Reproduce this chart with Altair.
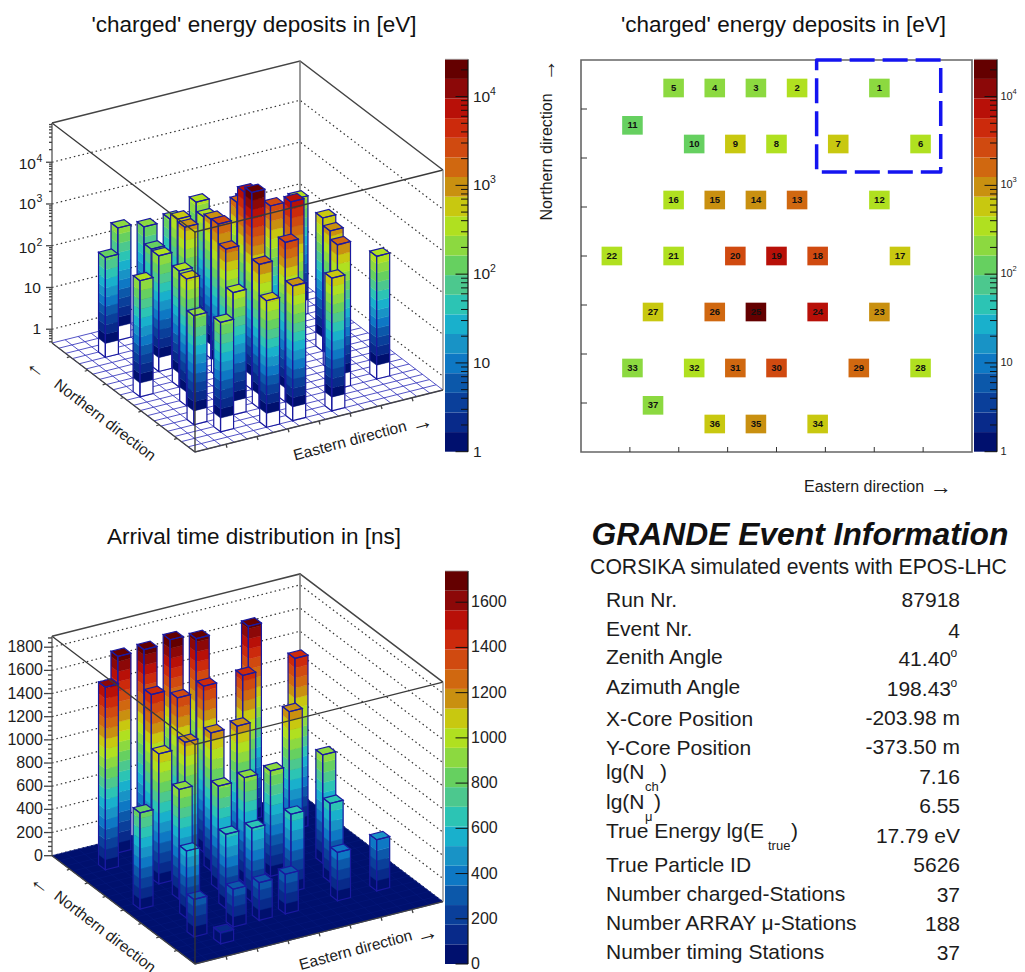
import math
import altair as alt

# ---- data ----
station_id = list(range(1, 38))
station_col = [14,10,8,6,4,16,12,9,7,5,2,14,10,8,6,4,15,11,9,7,4,1,14,11,8,6,3,16,13,9,7,5,2,11,8,6,3]
station_row = [1,1,1,1,1,4,4,4,4,4,3,7,7,7,7,7,10,10,10,10,10,10,13,13,13,13,13,16,16,16,16,16,16,19,19,19,18]
charged_lg = [2.30,2.51,2.26,2.23,2.36,2.49,2.80,2.61,2.71,2.15,2.06,2.50,3.25,3.00,2.97,2.44,2.86,3.46,3.95,3.34,
              2.45,2.45,3.00,3.93,4.39,3.19,2.71,2.61,3.12,3.49,3.12,2.60,2.28,2.85,2.90,2.70,2.29]
arrival_ns = [1674,1680,1727,1698,1696,1473,1439,1431,1387,1472,1577,1203,1192,1190,1165,1122,935,910,908,892,
              948,831,678,670,634,638,579,441,417,342,326,326,323,0,0,0,98]
palette = ["#00106e","#082a8a","#0a3f9a","#0c58aa","#0e78c4","#1893c6","#19b0cc","#2cc4b4","#4cc88e","#66d060",
           "#8cd940","#b0e020","#c8c810","#c99010","#d06810","#d04a10","#cc2a0c","#b81008","#8c0808","#640000"]
info_labels = ["Run Nr.","Event Nr.","Zenith Angle","Azimuth Angle","X-Core Position","Y-Core Position","lg(N","lg(N",
               "True Energy lg(E","True Particle ID","Number charged-Stations","Number ARRAY \u03bc-Stations","Number timing Stations"]
info_values = ["87918","4","41.40","198.43","-203.98 m","-373.50 m","7.16","6.55","17.79 eV","5626","37","188","37"]
info_label_y = [600.7,630,658,688,720,749,773,803,832,866,895,924,953]
info_value_y = [601,632,660,690,719,748,778,807,837,866,896,925,954]
NX, NY = 19, 21
CH_MAX = 4.42   # lg of colour-scale top
T_MAX = 1738
FONT = "Liberation Sans"
OFF = 8

P1 = dict(F=(195,452), R=(443,390), L=(52,343), H=220)
P3 = dict(F=(195,964), R=(443,901.7), L=(52,855.7), H=219.5)
z1 = lambda lg: (lg + 0.33) / 5.27
z3 = lambda t: t / 1895.0

def pt(P, u, v, z=0.0):
    F, R, L = P["F"], P["R"], P["L"]
    return [F[0] + (R[0]-F[0])*u + (L[0]-F[0])*v,
            F[1] + (R[1]-F[1])*u + (L[1]-F[1])*v - P["H"]*z]

def poly(pts, fill, stroke, sw):
    return {"type":"Feature","geometry":{"type":"Polygon","coordinates":[pts+[pts[0]]]},
            "properties":{"fill":fill,"stroke":stroke,"sw":sw}}

def line(pts, stroke="#555555"):
    return {"type":"Feature","geometry":{"type":"LineString","coordinates":pts},"properties":{"stroke":stroke}}

EDGE = "#1a1aa0"

def bars(P, vals, zf, band_of, edges, base):
    out = []
    order = sorted(range(len(vals)), key=lambda i: (station_row[i], -station_col[i]))
    for i in order:
        val = vals[i]
        if val <= 0:
            continue
        c, r = station_col[i], station_row[i]
        u0, u1 = c/NX, (c+1)/NX
        v1, v0 = (NY-r)/NY, (NY-r-1)/NY
        zt = zf(val)
        faces = [((u0,v0),(u0,v1)), ((u0,v0),(u1,v0))]
        for a, b in faces:
            if base is not None:
                zb = zf(base)
                out.append(poly([pt(P,*a,0),pt(P,*b,0),pt(P,*b,zb),pt(P,*a,zb)], "#ffffff", "#ffffff", 0.3))
            for k, col in enumerate(palette):
                lo, hi = edges[k], min(edges[k+1], val)
                if lo >= val:
                    break
                out.append(poly([pt(P,*a,zf(lo)),pt(P,*b,zf(lo)),pt(P,*b,zf(hi)),pt(P,*a,zf(hi))], col, col, 0.4))
        topc = palette[min(band_of(val), 19)]
        out.append(poly([pt(P,u0,v0,zt),pt(P,u1,v0,zt),pt(P,u1,v1,zt),pt(P,u0,v1,zt)], topc, EDGE, 1.2))
        # outlines of the two visible faces
        out.append(poly([pt(P,u0,v1,0),pt(P,u0,v0,0),pt(P,u0,v0,zt),pt(P,u0,v1,zt)], "none", EDGE, 1.2))
        out.append(poly([pt(P,u0,v0,0),pt(P,u1,v0,0),pt(P,u1,v0,zt),pt(P,u0,v0,zt)], "none", EDGE, 1.2))
    return out

def floor_lines(P, col):
    f = []
    for c in range(NX+1):
        f.append(line([pt(P,c/NX,0),pt(P,c/NX,1)], col))
    for r in range(NY+1):
        f.append(line([pt(P,0,r/NY),pt(P,1,r/NY)], col))
    return f

geo = alt.Projection(type="identity", scale=1, translate=[-OFF, -OFF])

def geo_lines(feats, width, dash=None):
    kw = dict(filled=False, strokeWidth=width)
    if dash:
        kw["strokeDash"] = dash
    return alt.Chart(alt.Data(values=feats)).mark_geoshape(**kw).encode(
        stroke=alt.Stroke("properties.stroke:N", scale=None)).project(**geo.to_dict())

def geo_polys(feats):
    return alt.Chart(alt.Data(values=feats)).mark_geoshape().encode(
        fill=alt.Fill("properties.fill:N", scale=None),
        stroke=alt.Stroke("properties.stroke:N", scale=None),
        strokeWidth=alt.StrokeWidth("properties.sw:Q", scale=None)).project(**geo.to_dict())

layers = []

def walls(P, zvals):
    d = []
    for z in zvals:
        d.append(line([pt(P,0,1,z),pt(P,1,1,z),pt(P,1,0,z)], "#333333"))
    return d

def frame_back(P):
    return [line([pt(P,0,1,1),pt(P,1,1,1),pt(P,1,0,1)], "#444444"),
            line([pt(P,1,1,0),pt(P,1,1,1)], "#777777")]

def frame_front(P):
    return [line([pt(P,0,1,1),pt(P,0,0,1),pt(P,1,0,1)], "#3a3a3a"),
            line([pt(P,0,0,0),pt(P,0,0,1)], "#333333"),
            line([pt(P,0,1,0),pt(P,0,1,1)], "#555555"),
            line([pt(P,1,0,0),pt(P,1,0,1)], "#888888")]

def floor_edges(P):
    e = [line([pt(P,0,1),pt(P,0,0),pt(P,1,0)], "#444444")]
    for k in range(1,8):
        a = pt(P,k/8,0)
        e.append(line([a,[a[0]+1,a[1]+3.5]], "#444444"))
        b = pt(P,0,k/8)
        e.append(line([b,[b[0]-3,b[1]+1]], "#444444"))
    return e

def lticks(P, zs, ln):
    return [line([[pt(P,0,1,z)[0]-ln, pt(P,0,1,z)[1]], pt(P,0,1,z)], "#444444") for z in zs]

step = CH_MAX/20
ch_edges = [k*step for k in range(21)]
t_step = T_MAX/20
t_edges = [k*t_step for k in range(21)]

# -- panel 1 and 3 backgrounds --
major1 = [z1(k) for k in range(5)]
major3 = [z3(k*200) for k in range(1,10)] + [z3(0)]
layers.append(geo_lines(walls(P1, major1) + walls(P3, major3), 1.2, [1.5,3]))
layers.append(geo_lines(frame_back(P1) + frame_back(P3), 1.5))
layers.append(geo_polys([poly([pt(P3,0,0),pt(P3,1,0),pt(P3,1,1),pt(P3,0,1)], palette[0], palette[0], 0.5)]))
layers.append(geo_lines(floor_lines(P1, "#4040c0"), 0.9))
layers.append(geo_lines(floor_lines(P3, "#081c80"), 0.4))
layers.append(geo_polys(bars(P1, charged_lg, z1, lambda v: int(v/step), ch_edges, 0.0)))
layers.append(geo_polys(bars(P3, arrival_ns, z3, lambda v: int(v/t_step), t_edges, None)))
minor1 = []
for d in range(-1,5):
    for m in range(2,10):
        lg = d + math.log10(m)
        if -0.33 < lg < 4.94:
            minor1.append(z1(lg))
minor3 = [z3(k*40) for k in range(0,48) if k % 5]
layers.append(geo_lines(frame_front(P1) + frame_front(P3) + floor_edges(P1) + floor_edges(P3)
                        + lticks(P1, major1, 6) + lticks(P1, minor1, 3)
                        + lticks(P3, major3, 8) + lticks(P3, minor3, 4), 1.3))

# -- colour bars through their own scales --
def colorbar(x0, x1, ytop, ybot, scale_y, edges, majors, minors, labels, lab_x, sup_size=10.5, sup_dx=17):
    rows = [{"lo":edges[k], "hi":edges[k+1], "mid":k+0.5} for k in range(20)]
    out = [alt.Chart(alt.Data(values=rows)).mark_rect().encode(
        x=alt.value(x0-OFF), x2=alt.value(x1-OFF),
        y=alt.Y("lo:Q", scale=scale_y, axis=None), y2="hi:Q",
        fill=alt.Fill("mid:Q", scale=alt.Scale(type="quantize", domain=[0,20], range=palette), legend=None))]
    if minors:
        out.append(alt.Chart(alt.Data(values=[{"t":v} for v in minors])).mark_rule(color="#111111", strokeWidth=1).encode(
            x=alt.value(x1-7-OFF), x2=alt.value(x1-OFF), y=alt.Y("t:Q", scale=scale_y, axis=None)))
    out.append(alt.Chart(alt.Data(values=[{"t":v} for v in majors])).mark_rule(color="#111111", strokeWidth=1).encode(
        x=alt.value(x1-12.5-OFF), x2=alt.value(x1-OFF), y=alt.Y("t:Q", scale=scale_y, axis=None)))
    base = [{"t":v,"s":s} for v,s,_ in labels]
    sup = [{"t":v,"s":e} for v,_,e in labels if e]
    out.append(alt.Chart(alt.Data(values=base)).mark_text(font=FONT, fontSize=lab_x[1], align="left", baseline="middle", color="#222222").encode(
        x=alt.value(lab_x[0]-OFF), y=alt.Y("t:Q", scale=scale_y, axis=None), text="s:N"))
    if sup:
        out.append(alt.Chart(alt.Data(values=sup)).mark_text(font=FONT, fontSize=sup_size, align="left", baseline="middle", color="#222222", dy=-5, dx=sup_dx).encode(
            x=alt.value(lab_x[0]-OFF), y=alt.Y("t:Q", scale=scale_y, axis=None), text="s:N"))
    out.append(alt.Chart(alt.Data(values=[{"a":1}])).mark_rule(color="#111111", strokeWidth=1.2).encode(
        x=alt.value(x1-OFF), y=alt.value(ytop-OFF), y2=alt.value(ybot-OFF)))
    out.append(alt.Chart(alt.Data(values=[{"a":1}])).mark_rule(color="#999999", strokeWidth=0.8).encode(
        x=alt.value(x0-OFF), x2=alt.value(x1-OFF), y=alt.value(ytop-OFF)))
    return out

log_edges = [10**e for e in ch_edges]
log_major = [1,10,100,1000,10000]
log_minor = [m*10**d for d in range(5) for m in range(2,10) if m*10**d < 10**CH_MAX]
log_labels = [(1,"1",""),(10,"10",""),(100,"10","2"),(1000,"10","3"),(10000,"10","4")]
sy = alt.Scale(type="log", domain=[1,10**CH_MAX], range=[451.7-OFF,59.3-OFF])
layers += colorbar(445, 468, 59.3, 451.7, sy, log_edges, log_major, log_minor, log_labels, (473,15.5))
# the right-hand bar's labels are set smaller so they stay inside the 1009 px canvas
layers += colorbar(974, 997, 59.3, 451.7, sy, log_edges, log_major, log_minor, log_labels, (1000.5,11), 7.5, 12)
sy3 = alt.Scale(type="linear", domain=[0,T_MAX], range=[964-OFF,571-OFF])
t_labels = [(v,str(v),"") for v in range(0,1601,200)]
layers += colorbar(445, 468, 571, 964, sy3, t_edges, [v for v,_,_ in t_labels], [], t_labels, (471,16))

# -- 2D map with real scales --
sx = alt.Scale(domain=[0,NX], range=[581-OFF,972-OFF])
sy2 = alt.Scale(domain=[0,NY], range=[60-OFF,452-OFF])
cells = [{"id":str(i),"c":c,"c2":c+1,"cm":c+0.5,"r":r,"r2":r+1,"rm":r+0.5,"lg":v}
         for i,c,r,v in zip(station_id,station_col,station_row,charged_lg)]
cells_data = alt.Data(values=cells)
layers.append(alt.Chart(cells_data).mark_rect().encode(
    x=alt.X("c:Q", scale=sx, axis=None), x2="c2:Q",
    y=alt.Y("r:Q", scale=sy2, axis=None), y2="r2:Q",
    fill=alt.Fill("lg:Q", scale=alt.Scale(type="quantize", domain=[0,CH_MAX], range=palette), legend=None)))
layers.append(alt.Chart(cells_data).mark_text(font=FONT, fontSize=9.5, fontWeight="bold", color="#111111", baseline="middle").encode(
    x=alt.X("cm:Q", scale=sx, axis=None), y=alt.Y("rm:Q", scale=sy2, axis=None), text="id:N"))
layers.append(alt.Chart(alt.Data(values=[{"a":0,"b":NX,"p":0,"q":NY}])).mark_rect(
    filled=False, stroke="#666666", strokeWidth=1.6).encode(
    x=alt.X("a:Q", scale=sx, axis=None), x2="b:Q", y=alt.Y("p:Q", scale=sy2, axis=None), y2="q:Q"))
layers.append(alt.Chart(alt.Data(values=[{"a":11.45,"b":17.48,"p":0.0,"q":6.0}])).mark_rect(
    filled=False, stroke="#1414f0", strokeWidth=3.5, strokeDash=[25,8], strokeJoin="round").encode(
    x=alt.X("a:Q", scale=sx, axis=None), x2="b:Q", y=alt.Y("p:Q", scale=sy2, axis=None), y2="q:Q"))
layers.append(alt.Chart(alt.Data(values=[{"t":NX*k/8} for k in range(1,8)])).mark_rule(color="#333333", strokeWidth=1).encode(
    x=alt.X("t:Q", scale=sx, axis=None), y=alt.value(452-OFF), y2=alt.value(447-OFF)))
layers.append(alt.Chart(alt.Data(values=[{"t":NY*k/8} for k in range(1,8)])).mark_rule(color="#333333", strokeWidth=1).encode(
    y=alt.Y("t:Q", scale=sy2, axis=None), x=alt.value(581-OFF), x2=alt.value(587-OFF)))

# -- text --
texts = []
def T(s, x, y, size=21, align="left", angle=0, weight="normal", style="normal", color="#1c1c1c"):
    texts.append(dict(s=s,x=x-OFF,y=y-OFF,size=size,align=align,angle=angle,weight=weight,style=style,color=color))

for s, x, y in [("'charged' energy deposits in [eV]",254,25),("'charged' energy deposits in [eV]",783.5,25),
                ("Arrival time distribution in [ns]",254,537)]:
    T(s,x,y,22.5,"center",color="#111111")
T("Northern direction",105,420,15.5,"center",37.5)
T("\u2190",37,368,22,"center",37.5)
T("Eastern direction",350,440.7,15.5,"center",345)
T("\u2192",421.7,423,22,"center",345)
T("Northern direction",105,931.7,15.5,"center",37.5)
T("\u2190",41,884,22,"center",37.5)
T("Eastern direction",355.7,950,15.5,"center",345)
T("\u2192",426.7,934,22,"center",345)
T("Northern direction",546.7,157,16,"center",270)
T("\u2192",548,70,22,"center",270)
T("Eastern direction",864,486.7,16,"center")
T("\u2192",941,487,22,"center")
for s,y in [("1",329),("10",288)]:
    T(s,41,y,15.5,"right")
for e,y in [("2",248),("3",204),("4",164)]:
    T("10",36,y,15.5,"right")
    T(e,36.5,y-5,10.5,"left")
for k in range(10):
    T(str(k*200),43,855.7-k*200*0.1158,16,"right")
T("GRANDE Event Information",800,535,31.8,"center",weight="bold",style="italic",color="#111111")
T("CORSIKA simulated events with EPOS-LHC",798.5,568,21.2,"center")
for s,y in zip(info_labels,info_label_y):
    T(s,606,y,21)
for s,y in zip(info_values,info_value_y):
    xr = 951 if s in ("41.40","198.43") else 960
    T(s,xr,y,21,"right")
T("o",950.5,653,12,"left")
T("o",950.5,683,12,"left")
T("ch",645,787,13)
T(")",660,773,21)
T("\u03bc",645,817,13)
T(")",654,803,21)
T("true",768,846,13)
T(")",791,832,21)

groups = {}
for t in texts:
    groups.setdefault((t["size"],t["align"],t["angle"],t["weight"],t["style"],t["color"]),[]).append(t)
for (size,align,angle,weight,style,color),rows in groups.items():
    layers.append(alt.Chart(alt.Data(values=rows)).mark_text(
        font=FONT,fontSize=size,align=align,angle=angle,fontWeight=weight,fontStyle=style,color=color,baseline="middle").encode(
        x=alt.X("x:Q",scale=None,axis=None), y=alt.Y("y:Q",scale=None,axis=None), text="s:N"))

chart = alt.layer(*layers).resolve_scale(
    x="independent", y="independent", fill="independent", stroke="independent", strokeWidth="independent"
).properties(width=1009, height=964, padding=0, autosize="none", background="white").configure_view(stroke=None)

chart.save("out.html", embed_options={"renderer":"svg","actions":False})
